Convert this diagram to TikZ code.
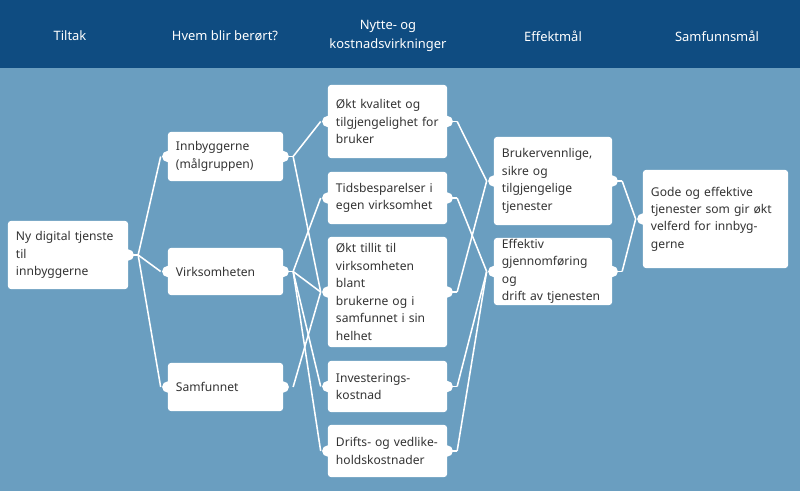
\documentclass[tikz,border=0pt]{standalone}
\usepackage{fontspec}
\setmainfont{Noto Sans}
\definecolor{headblue}{HTML}{0F4C81}
\definecolor{bodyblue}{HTML}{6A9EC0}
\definecolor{txtgray}{HTML}{333333}
\begin{document}
\begin{tikzpicture}[x=0.025cm,y=-0.025cm]
  \tikzstyle{box}=[fill=white,rounded corners=2pt,inner sep=0pt,align=left,text=txtgray,font=\fontsize{8.6}{12.4}\selectfont]
  \tikzstyle{head}=[text=white,align=center,font=\bfseries\fontsize{9.2}{13}\selectfont]
  \tikzstyle{dot}=[circle,fill=white,inner sep=0pt,minimum size=8pt]
  \tikzstyle{link}=[white,line width=1.1pt]

  % background
  \fill[bodyblue] (0,0) rectangle (800,491);
  \fill[headblue] (0,0) rectangle (800,68);
  \useasboundingbox (0,0) rectangle (800,491);

  % header
  \node [head] (h1) at (70,36) {Tiltak};
  \node [head] (h2) at (225,36) {Hvem blir berørt?};
  \node [head] (h3) at (388,36) {Nytte- og\\kostnadsvirkninger};
  \node [head] (h4) at (553,36) {Effektmål};
  \node [head] (h5) at (717,36) {Samfunnsmål};

  % column 1
  \node [box,minimum width=3cm,minimum height=1.7cm,text width=2.6cm] (t1) at (68,255) {Ny digital tjenste til\\innbyggerne};

  % column 2
  \node [box,minimum width=2.875cm,minimum height=1.225cm,text width=2.475cm] (g1) at (225.5,156.5) {Innbyggerne\\(målgruppen)};
  \node [box,minimum width=2.875cm,minimum height=1.175cm,text width=2.475cm] (g2) at (225.5,271.5) {Virksomheten};
  \node [box,minimum width=2.875cm,minimum height=1.2cm,text width=2.475cm] (g3) at (225.5,387) {Samfunnet};

  % column 3
  \node [box,minimum width=2.975cm,minimum height=1.825cm,text width=2.575cm] (v1) at (387.5,121.5) {Økt kvalitet og\\tilgjengelighet for\\bruker};
  \node [box,minimum width=2.975cm,minimum height=1.3cm,text width=2.575cm] (v2) at (387.5,198) {Tidsbesparelser i\\egen virksomhet};
  \node [box,minimum width=2.975cm,minimum height=2.75cm,text width=2.575cm] (v3) at (387.5,292) {Økt tillit til\\virksomheten blant\\brukerne og i\\samfunnet i sin\\helhet};
  \node [box,minimum width=2.975cm,minimum height=1.275cm,text width=2.575cm] (v4) at (387.5,386.5) {Investerings-\\kostnad};
  \node [box,minimum width=2.975cm,minimum height=1.3cm,text width=2.575cm] (v5) at (387.5,451) {Drifts- og vedlike-\\holdskostnader};

  % column 4
  \node [box,minimum width=2.95cm,minimum height=2.2cm,text width=2.55cm] (e1) at (553,181) {Brukervennlige,\\sikre og\\tilgjengelige\\tjenester};
  \node [box,minimum width=2.95cm,minimum height=1.675cm,text width=2.55cm] (e2) at (553,271.5) {Effektiv\\gjennomføring og\\drift av tjenesten};

  % column 5
  \node [box,minimum width=3.625cm,minimum height=2.45cm,text width=3.225cm] (s1) at (715.5,219) {Gode og effektive\\tjenester som gir økt\\velferd for innbyggerne};

  % connectors
  \foreach \a/\b in {t1/g1,t1/g2,t1/g3,g1/v1,g1/v3,g2/v2,g2/v3,g2/v4,g2/v5,g3/v3,
                     v1/e1,v2/e2,v3/e1,v4/e2,v5/e2,e1/s1,e2/s1}
    \draw [link] ([xshift=7pt]\a.east) -- ([xshift=-5pt]\b.west);

  % end dots
  \foreach \n in {t1,g1,g2,g3,v1,v2,v3,v4,v5,e1,e2}
    \node [dot] at (\n.east) {};
  \foreach \n in {g1,g2,g3,v1,v2,v3,v4,v5,e1,e2,s1}
    \node [dot] at (\n.west) {};
  \foreach \n in {t1,g1,g2,v1,v2,v3,v4,v5,e1,e2}
    \draw [link] (\n.east) -- ([xshift=7pt]\n.east);
\end{tikzpicture}
\end{document}
